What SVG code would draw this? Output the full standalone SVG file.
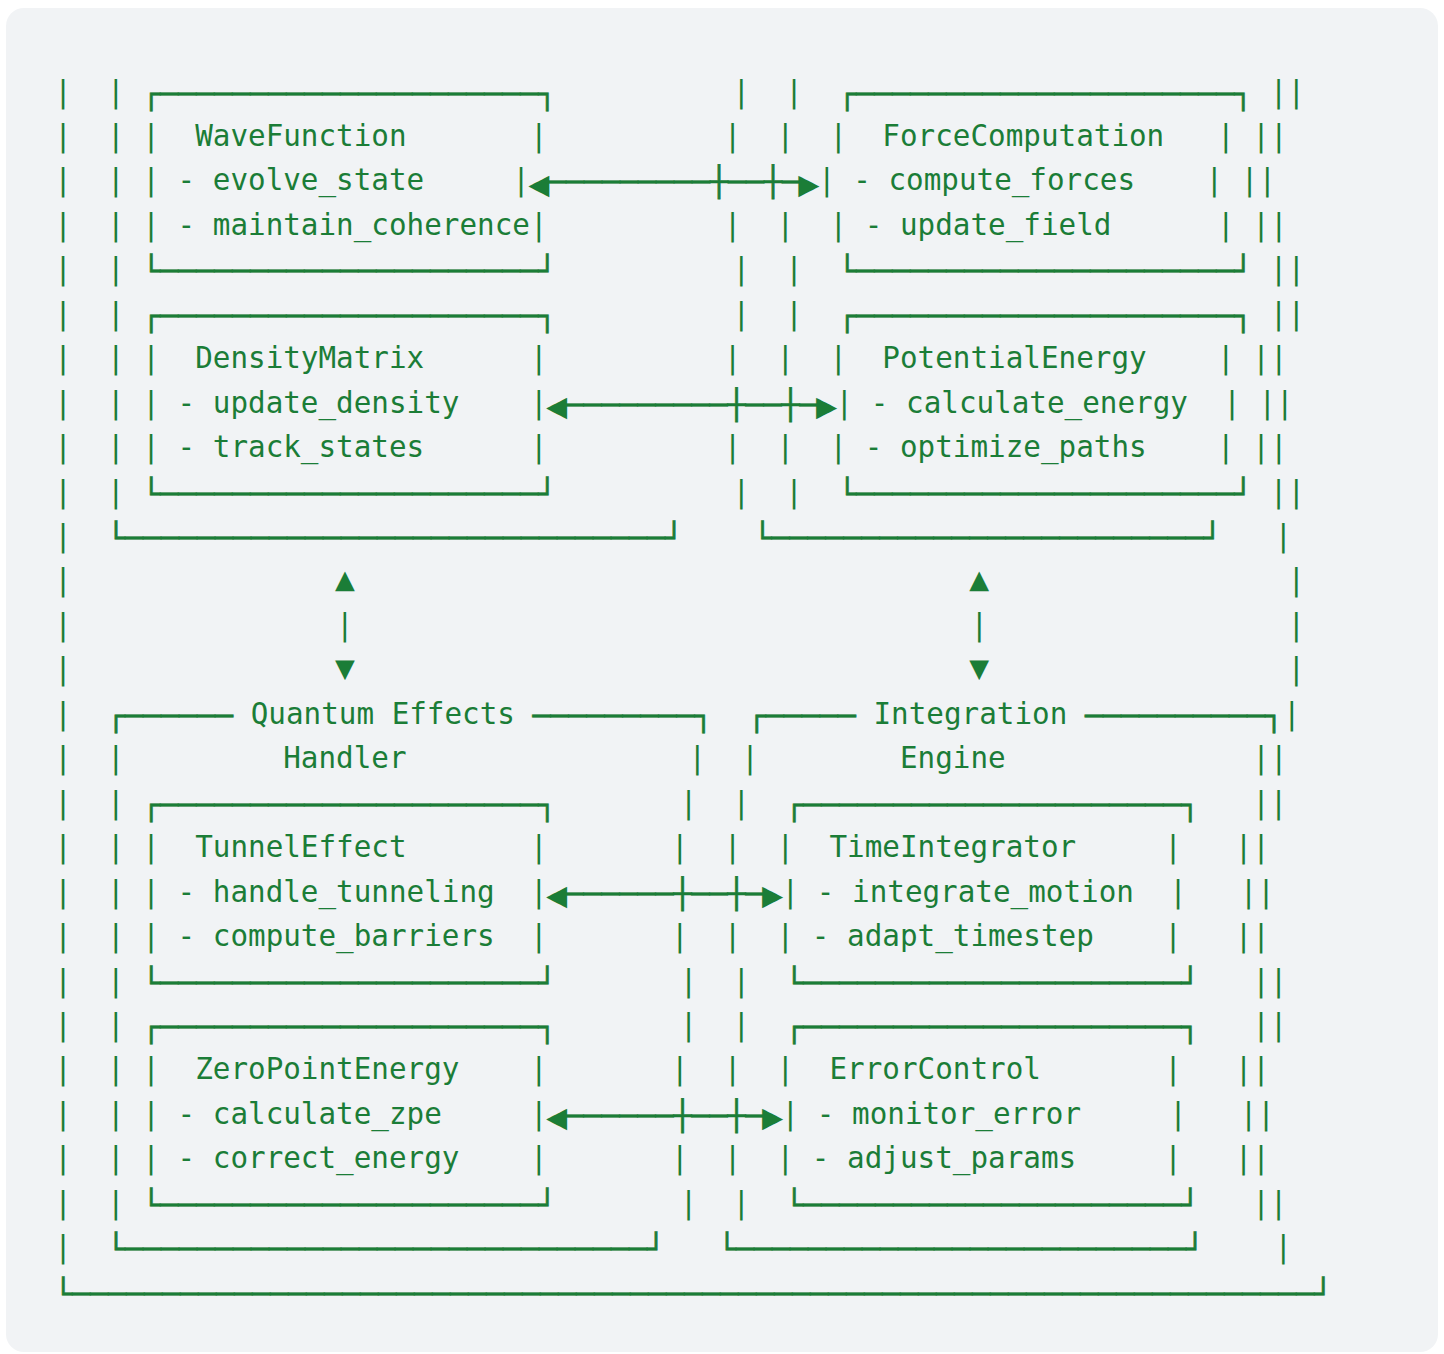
<svg xmlns="http://www.w3.org/2000/svg" width="1444" height="1354" viewBox="0 0 1444 1354" xml:space="preserve">
<style>
text { font-family: "DejaVu Sans Mono", "Liberation Mono", monospace; font-size: 29.27px; fill: #1b7d37; white-space: pre; }
.b { stroke: #1b7d37; stroke-width: 0.6px; transform: translateY(2px); }
.tri { font-size: 33px; text-anchor: middle; }
.ah { text-anchor: middle; }
</style>
<rect x="0" y="0" width="1444" height="1354" fill="#ffffff"/>
<rect x="6" y="8" width="1432" height="1344" rx="18" fill="#f1f3f5"/>
<g id="frame">
<text x="54.2" y="101.5">|  |</text><text x="732.5" y="101.5">|  |</text><text x="1269.84" y="101.5">||</text>
<text x="54.2" y="145.95">|  |</text><text x="723.76" y="145.95">|  |</text><text x="1252.36" y="145.95">||</text>
<text x="54.2" y="190.4">|  |</text><text x="1240.8" y="190.4">||</text>
<text x="54.2" y="234.85">|  |</text><text x="723.76" y="234.85">|  |</text><text x="1252.36" y="234.85">||</text>
<text x="54.2" y="279.3">|  |</text><text x="732.5" y="279.3">|  |</text><text x="1269.84" y="279.3">||</text>
<text x="54.2" y="323.75">|  |</text><text x="732.5" y="323.75">|  |</text><text x="1269.84" y="323.75">||</text>
<text x="54.2" y="368.2">|  |</text><text x="723.76" y="368.2">|  |</text><text x="1252.36" y="368.2">||</text>
<text x="54.2" y="412.65">|  |</text><text x="1258.44" y="412.65">||</text>
<text x="54.2" y="457.1">|  |</text><text x="723.76" y="457.1">|  |</text><text x="1252.36" y="457.1">||</text>
<text x="54.2" y="501.55">|  |</text><text x="732.5" y="501.55">|  |</text><text x="1269.84" y="501.55">||</text>
<text x="54.2" y="546">|</text><text class="b" x="107.06" y="546" textLength="576" lengthAdjust="spacingAndGlyphs">└──────────────────────────────┘</text><text class="b" x="753.54" y="546" textLength="468" lengthAdjust="spacingAndGlyphs">└────────────────────────┘</text><text x="1274.4" y="546">|</text>
<text x="54.2" y="590.45">|</text><text x="1287.6" y="590.45">|</text>
<text x="54.2" y="634.9">|</text><text x="1287.6" y="634.9">|</text>
<text x="54.2" y="679.35">|</text><text x="1287.6" y="679.35">|</text>
<text x="54.2" y="723.8">|</text><text x="1282.92" y="723.8">|</text>
<text x="54.2" y="768.25">|  |</text><text x="688.52" y="768.25">|  |</text><text x="1252.36" y="768.25">||</text>
<text x="54.2" y="812.7">|  |</text><text x="679.64" y="812.7">|  |</text><text x="1252.22" y="812.7">||</text>
<text x="54.2" y="857.15">|  |</text><text x="670.9" y="857.15">|  |</text><text x="1234.74" y="857.15">||</text>
<text x="54.2" y="901.6">|  |</text><text x="1239.68" y="901.6">||</text>
<text x="54.2" y="946.05">|  |</text><text x="670.9" y="946.05">|  |</text><text x="1234.74" y="946.05">||</text>
<text x="54.2" y="990.5">|  |</text><text x="679.64" y="990.5">|  |</text><text x="1252.22" y="990.5">||</text>
<text x="54.2" y="1034.95">|  |</text><text x="679.64" y="1034.95">|  |</text><text x="1252.22" y="1034.95">||</text>
<text x="54.2" y="1079.4">|  |</text><text x="670.9" y="1079.4">|  |</text><text x="1234.74" y="1079.4">||</text>
<text x="54.2" y="1123.85">|  |</text><text x="1239.68" y="1123.85">||</text>
<text x="54.2" y="1168.3">|  |</text><text x="670.9" y="1168.3">|  |</text><text x="1234.74" y="1168.3">||</text>
<text x="54.2" y="1212.75">|  |</text><text x="679.64" y="1212.75">|  |</text><text x="1252.22" y="1212.75">||</text>
<text x="54.2" y="1257.2">|</text><text x="1274.4" y="1257.2">|</text>
<text class="b" x="54.2" y="1301.65" textLength="1278" lengthAdjust="spacingAndGlyphs">└─────────────────────────────────────────────────────────────────────┘</text>
</g>
<g id="quantum-effects-handler">
<text class="b" x="107.06" y="723.8" textLength="126" lengthAdjust="spacingAndGlyphs">┌──────</text>
<text x="250.68" y="723.8">Quantum Effects</text>
<text class="b" x="532.62" y="723.8" textLength="180" lengthAdjust="spacingAndGlyphs">─────────┐</text>
<text x="283.26" y="768.25">Handler</text>
<text class="b" x="107.06" y="1257.2" textLength="558" lengthAdjust="spacingAndGlyphs">└─────────────────────────────┘</text>
</g>
<g id="integration-engine">
<text class="b" x="747.86" y="723.8" textLength="108" lengthAdjust="spacingAndGlyphs">┌─────</text>
<text x="873.48" y="723.8">Integration</text>
<text class="b" x="1084.92" y="723.8" textLength="198" lengthAdjust="spacingAndGlyphs">──────────┐</text>
<text x="899.96" y="768.25">Engine</text>
<text class="b" x="717.92" y="1257.2" textLength="486" lengthAdjust="spacingAndGlyphs">└─────────────────────────┘</text>
</g>
<g id="node-wavefunction">
<text class="b" x="142.3" y="101.5" textLength="414" lengthAdjust="spacingAndGlyphs">┌─────────────────────┐</text>
<text x="142.3" y="145.95">|  WaveFunction       |</text>
<text x="142.3" y="190.4">| - evolve_state     |</text>
<text x="142.3" y="234.85">| - maintain_coherence|</text>
<text class="b" x="142.3" y="279.3" textLength="414" lengthAdjust="spacingAndGlyphs">└─────────────────────┘</text>
</g>
<g id="node-forcecomputation">
<text class="b" x="838.22" y="101.5" textLength="414" lengthAdjust="spacingAndGlyphs">┌─────────────────────┐</text>
<text x="829.48" y="145.95">|  ForceComputation   |</text>
<text x="817.94" y="190.4">| - compute_forces    |</text>
<text x="829.48" y="234.85">| - update_field      |</text>
<text class="b" x="838.22" y="279.3" textLength="414" lengthAdjust="spacingAndGlyphs">└─────────────────────┘</text>
</g>
<g id="node-densitymatrix">
<text class="b" x="142.3" y="323.75" textLength="414" lengthAdjust="spacingAndGlyphs">┌─────────────────────┐</text>
<text x="142.3" y="368.2">|  DensityMatrix      |</text>
<text x="142.3" y="412.65">| - update_density    |</text>
<text x="142.3" y="457.1">| - track_states      |</text>
<text class="b" x="142.3" y="501.55" textLength="414" lengthAdjust="spacingAndGlyphs">└─────────────────────┘</text>
</g>
<g id="node-potentialenergy">
<text class="b" x="838.22" y="323.75" textLength="414" lengthAdjust="spacingAndGlyphs">┌─────────────────────┐</text>
<text x="829.48" y="368.2">|  PotentialEnergy    |</text>
<text x="835.56" y="412.65">| - calculate_energy  |</text>
<text x="829.48" y="457.1">| - optimize_paths    |</text>
<text class="b" x="838.22" y="501.55" textLength="414" lengthAdjust="spacingAndGlyphs">└─────────────────────┘</text>
</g>
<g id="node-tunneleffect">
<text class="b" x="142.3" y="812.7" textLength="414" lengthAdjust="spacingAndGlyphs">┌─────────────────────┐</text>
<text x="142.3" y="857.15">|  TunnelEffect       |</text>
<text x="142.3" y="901.6">| - handle_tunneling  |</text>
<text x="142.3" y="946.05">| - compute_barriers  |</text>
<text class="b" x="142.3" y="990.5" textLength="414" lengthAdjust="spacingAndGlyphs">└─────────────────────┘</text>
</g>
<g id="node-timeintegrator">
<text class="b" x="785.36" y="812.7" textLength="414" lengthAdjust="spacingAndGlyphs">┌─────────────────────┐</text>
<text x="776.62" y="857.15">|  TimeIntegrator     |</text>
<text x="781.56" y="901.6">| - integrate_motion  |</text>
<text x="776.62" y="946.05">| - adapt_timestep    |</text>
<text class="b" x="785.36" y="990.5" textLength="414" lengthAdjust="spacingAndGlyphs">└─────────────────────┘</text>
</g>
<g id="node-zeropointenergy">
<text class="b" x="142.3" y="1034.95" textLength="414" lengthAdjust="spacingAndGlyphs">┌─────────────────────┐</text>
<text x="142.3" y="1079.4">|  ZeroPointEnergy    |</text>
<text x="142.3" y="1123.85">| - calculate_zpe     |</text>
<text x="142.3" y="1168.3">| - correct_energy    |</text>
<text class="b" x="142.3" y="1212.75" textLength="414" lengthAdjust="spacingAndGlyphs">└─────────────────────┘</text>
</g>
<g id="node-errorcontrol">
<text class="b" x="785.36" y="1034.95" textLength="414" lengthAdjust="spacingAndGlyphs">┌─────────────────────┐</text>
<text x="776.62" y="1079.4">|  ErrorControl       |</text>
<text x="781.56" y="1123.85">| - monitor_error     |</text>
<text x="776.62" y="1168.3">| - adjust_params     |</text>
<text class="b" x="785.36" y="1212.75" textLength="414" lengthAdjust="spacingAndGlyphs">└─────────────────────┘</text>
</g>
<g id="connectors">
<text class="b" x="547.94" y="190.4" textLength="252" lengthAdjust="spacingAndGlyphs">─────────┼──┼─</text>
<text class="ah" x="0" y="9.4" transform="translate(538.94,183) scale(1.2,1.9)">◄</text>
<text class="ah" x="0" y="9.4" transform="translate(808.94,183) scale(1.2,1.9)">►</text>
<text class="b" x="565.56" y="412.65" textLength="252" lengthAdjust="spacingAndGlyphs">─────────┼──┼─</text>
<text class="ah" x="0" y="9.4" transform="translate(556.56,405.25) scale(1.2,1.9)">◄</text>
<text class="ah" x="0" y="9.4" transform="translate(826.56,405.25) scale(1.2,1.9)">►</text>
<text class="b" x="565.56" y="901.6" textLength="198" lengthAdjust="spacingAndGlyphs">──────┼──┼─</text>
<text class="ah" x="0" y="9.4" transform="translate(556.56,894.2) scale(1.2,1.9)">◄</text>
<text class="ah" x="0" y="9.4" transform="translate(772.56,894.2) scale(1.2,1.9)">►</text>
<text class="b" x="565.56" y="1123.85" textLength="198" lengthAdjust="spacingAndGlyphs">──────┼──┼─</text>
<text class="ah" x="0" y="9.4" transform="translate(556.56,1116.45) scale(1.2,1.9)">◄</text>
<text class="ah" x="0" y="9.4" transform="translate(772.56,1116.45) scale(1.2,1.9)">►</text>
<text class="tri" x="345" y="590.45">▲</text><text x="336.12" y="634.9">|</text><text class="tri" x="345" y="679.35">▼</text>
<text class="tri" x="979.3" y="590.45">▲</text><text x="970.44" y="634.9">|</text><text class="tri" x="979.3" y="679.35">▼</text>
</g>
</svg>
